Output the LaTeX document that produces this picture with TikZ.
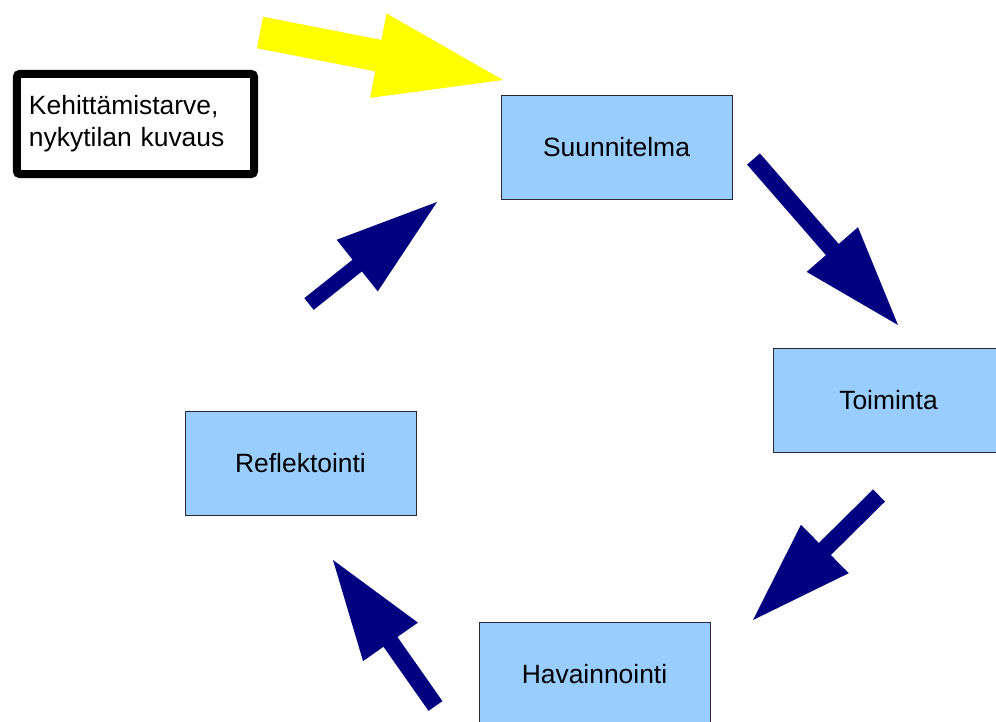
\documentclass[tikz,border=0pt]{standalone}
\usepackage{fontspec}
\setmainfont{Liberation Sans}
\usetikzlibrary{calc}
\definecolor{boxfill}{RGB}{153,204,255}
\definecolor{boxline}{RGB}{40,40,50}
\definecolor{cyclecolor}{RGB}{0,0,128}
\definecolor{startcolor}{RGB}{255,255,0}

% block arrow: [colour]{tail}{tip}{half shaft}{half head}{head length}
\newcommand{\blockarrow}[6][cyclecolor]{%
  \coordinate (ba-base) at ($(#3)!#6!(#2)$);
  \fill[#1] ($(#2)!#4!90:(#3)$) -- ($(ba-base)!#4!90:(#3)$) -- ($(ba-base)!#5!90:(#3)$)
    -- (#3) -- ($(ba-base)!#5!-90:(#3)$) -- ($(ba-base)!#4!-90:(#3)$) -- ($(#2)!#4!-90:(#3)$) -- cycle;}

\begin{document}
\begin{tikzpicture}[x=0.025cm, y=-0.025cm, font=\fontsize{18.8pt}{22.6pt}\selectfont,
  stage/.style={draw=boxline, fill=boxfill, line width=0.6pt, minimum width=5.775cm, minimum height=2.6cm, inner sep=0pt}]
\useasboundingbox (0,0) rectangle (996,722);
\clip (0,0) rectangle (996,722);

\node[draw=black, line width=0.2cm, rounded corners=2pt, minimum width=5.925cm, minimum height=2.5cm,
  text width=5.325cm, inner xsep=0.3cm, inner ysep=0pt, align=left] (need) at (135.5,124) {Kehittämistarve,\\nykytilan kuvaus};
\node[stage] (plan) at (616.5,147) {Suunnitelma};
\node[stage] (act) at (888.5,400) {Toiminta};
\node[stage] (observe) at (594.5,674) {Havainnointi};
\node[stage] (reflect) at (300.5,463.5) {Reflektointi};

% arrow ends
\coordinate (need-tail) at (260,32.5);
\coordinate (need-tip) at (503,80);
\coordinate (plan-tail) at (753.5,159);
\coordinate (act-tip) at (898,325);
\coordinate (act-tail) at (879,495.5);
\coordinate (observe-tip) at (753,620);
\coordinate (observe-tail) at (435.5,706);
\coordinate (reflect-tip) at (333,560);
\coordinate (reflect-tail) at (309,304);
\coordinate (plan-tip) at (437,202);

\blockarrow[startcolor]{need-tail}{need-tip}{0.4cm}{1.075cm}{3.175cm}
\blockarrow{plan-tail}{act-tip}{0.2125cm}{0.85cm}{2.5cm}
\blockarrow{act-tail}{observe-tip}{0.2125cm}{0.85cm}{2.525cm}
\blockarrow{observe-tail}{reflect-tip}{0.2125cm}{0.8375cm}{2.5cm}
\blockarrow{reflect-tail}{plan-tip}{0.1875cm}{0.825cm}{2.55cm}
\end{tikzpicture}
\end{document}
